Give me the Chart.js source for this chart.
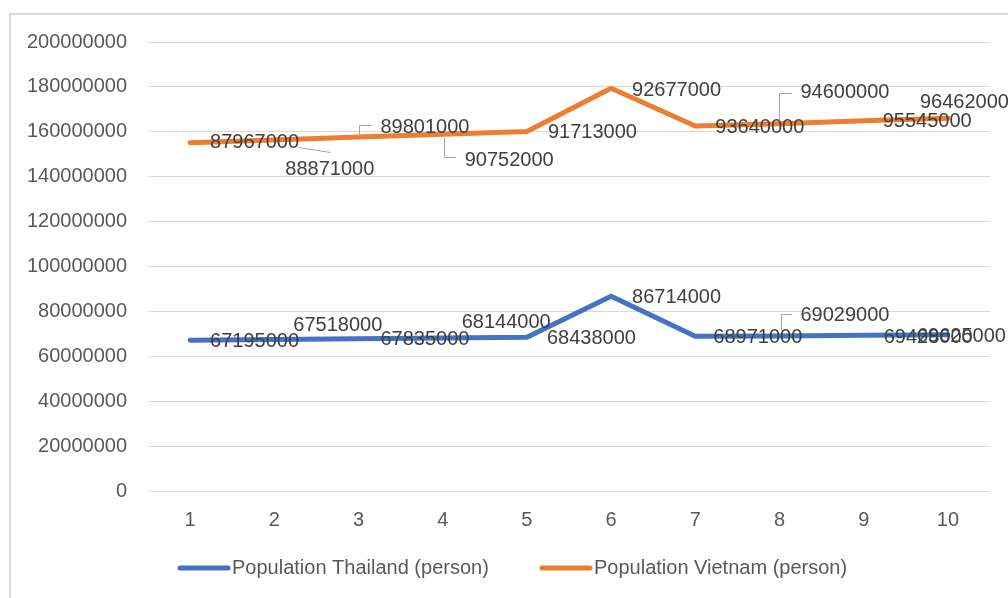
<!DOCTYPE html>
<html>
<head>
<meta charset="utf-8">
<title>Population Thailand and Vietnam</title>
<script src="https://cdn.jsdelivr.net/npm/chart.js@4.4.1/dist/chart.umd.min.js"></script>
<style>
  html, body { margin: 0; padding: 0; background: #ffffff; }
  #wrap { position: relative; width: 1008px; height: 598px; overflow: hidden; background: #ffffff; }
  #frame { position: absolute; left: 9px; top: 13px; width: 1100px; height: 700px;
           border: 2px solid #dadada; box-sizing: border-box; }
  #chart { position: absolute; left: 0; top: 0; }
</style>
</head>
<body>
<div id="wrap">
  <div id="frame"></div>
  <canvas id="chart" width="1008" height="598"></canvas>
</div>
<script>
// Periods on the category axis
const periods = ['1', '2', '3', '4', '5', '6', '7', '8', '9', '10'];

// Population figures (person)
const thailand = [67195000, 67518000, 67835000, 68144000, 68438000, 86714000, 68971000, 69029000, 69428000, 69625000];
const vietnam  = [87967000, 88871000, 89801000, 90752000, 91713000, 92677000, 93640000, 94600000, 95545000, 96462000];

const seriesNames = ['Population Thailand (person)', 'Population Vietnam (person)'];
const seriesColors = ['#4472C4', '#ED7D31'];

// Value-label placement relative to each point: [dx, dy] to the label's left/middle
const thaiLabelPos = [[20, 1], [19, -14], [22, 1], [19, -16], [20, 1], [21, 1], [18, 1], [21, -21], [20, 2], [-31, 2]];
const vietLabelPos = [[20, 0], [11, 30], [22, -10], [22, 26], [21, 1], [21, 2], [20, 2], [21, -31], [19, 1], [-28, -16]];

// Leader lines (polyline points relative to each point), null where none is drawn
const thaiLeaders = [null, null, null, null, null, null, null, [[1, -6], [1, -22], [11, -22]], null, null];
const vietLeaders = [null, [[24, 7], [56, 12]], [[0, -1], [0, -12], [12, -12]], [[1, 3], [1, 23], [12, 23]], null, null, null, [[-1, -4], [-1, -31], [11, -31]], null, null];

const FONT = '"Liberation Sans", Arial, sans-serif';

const valueLabels = {
  id: 'valueLabels',
  afterDatasetsDraw(chart) {
    const ctx = chart.ctx;
    const sets = [
      { values: thailand, pos: thaiLabelPos, leaders: thaiLeaders },
      { values: vietnam, pos: vietLabelPos, leaders: vietLeaders }
    ];
    ctx.save();
    sets.forEach((s, di) => {
      const meta = chart.getDatasetMeta(di);
      meta.data.forEach((pt, i) => {
        const ld = s.leaders[i];
        if (ld) {
          ctx.strokeStyle = '#a6a6a6';
          ctx.lineWidth = 1;
          ctx.beginPath();
          ld.forEach((p, k) => {
            const x = Math.round(pt.x + p[0]) + 0.5;
            const y = Math.round(pt.y + p[1]) + 0.5;
            if (k === 0) ctx.moveTo(x, y); else ctx.lineTo(x, y);
          });
          ctx.stroke();
        }
        ctx.fillStyle = '#404040';
        ctx.font = '20px ' + FONT;
        ctx.textAlign = 'left';
        ctx.textBaseline = 'middle';
        ctx.fillText(String(s.values[i]), pt.x + s.pos[i][0], pt.y + s.pos[i][1]);
      });
    });
    ctx.restore();
  }
};

const bottomLegend = {
  id: 'bottomLegend',
  afterDraw(chart) {
    const ctx = chart.ctx;
    const y = 568;
    const items = [{ x: 178 }, { x: 540 }];
    ctx.save();
    items.forEach((it, i) => {
      ctx.strokeStyle = seriesColors[i];
      ctx.lineWidth = 5;
      ctx.lineCap = 'round';
      ctx.beginPath();
      ctx.moveTo(it.x + 2, y);
      ctx.lineTo(it.x + 50, y);
      ctx.stroke();
      ctx.fillStyle = '#595959';
      ctx.font = '20px ' + FONT;
      ctx.textAlign = 'left';
      ctx.textBaseline = 'middle';
      ctx.fillText(seriesNames[i], it.x + 54, y);
    });
    ctx.restore();
  }
};

new Chart(document.getElementById('chart'), {
  type: 'line',
  data: {
    labels: periods,
    datasets: [
      { label: seriesNames[0], data: thailand, borderColor: seriesColors[0], backgroundColor: seriesColors[0] },
      { label: seriesNames[1], data: vietnam, borderColor: seriesColors[1], backgroundColor: seriesColors[1] }
    ]
  },
  options: {
    responsive: false,
    animation: false,
    devicePixelRatio: 1,
    layout: { padding: { left: 0, right: 18, top: 42, bottom: 0 } },
    elements: {
      line: { borderWidth: 5, tension: 0, fill: false, borderCapStyle: 'round', borderJoinStyle: 'round' },
      point: { radius: 0, hoverRadius: 0 }
    },
    plugins: {
      legend: { display: false },
      tooltip: { enabled: false },
      title: { display: false }
    },
    scales: {
      x: {
        offset: true,
        grid: { display: false, drawTicks: false },
        border: { display: false },
        ticks: { color: '#595959', font: { family: FONT, size: 20 }, padding: 17, maxRotation: 0 },
        afterFit(scale) { scale.height = 107; }
      },
      y: {
        stacked: true,
        min: 0,
        max: 200000000,
        grid: { color: '#d9d9d9', lineWidth: 1, drawTicks: false },
        border: { display: false },
        ticks: {
          stepSize: 20000000,
          color: '#595959',
          font: { family: FONT, size: 20 },
          padding: 21,
          callback: v => String(v)
        },
        afterFit(scale) { scale.width = 148; }
      }
    }
  },
  plugins: [valueLabels, bottomLegend]
});
</script>
</body>
</html>
